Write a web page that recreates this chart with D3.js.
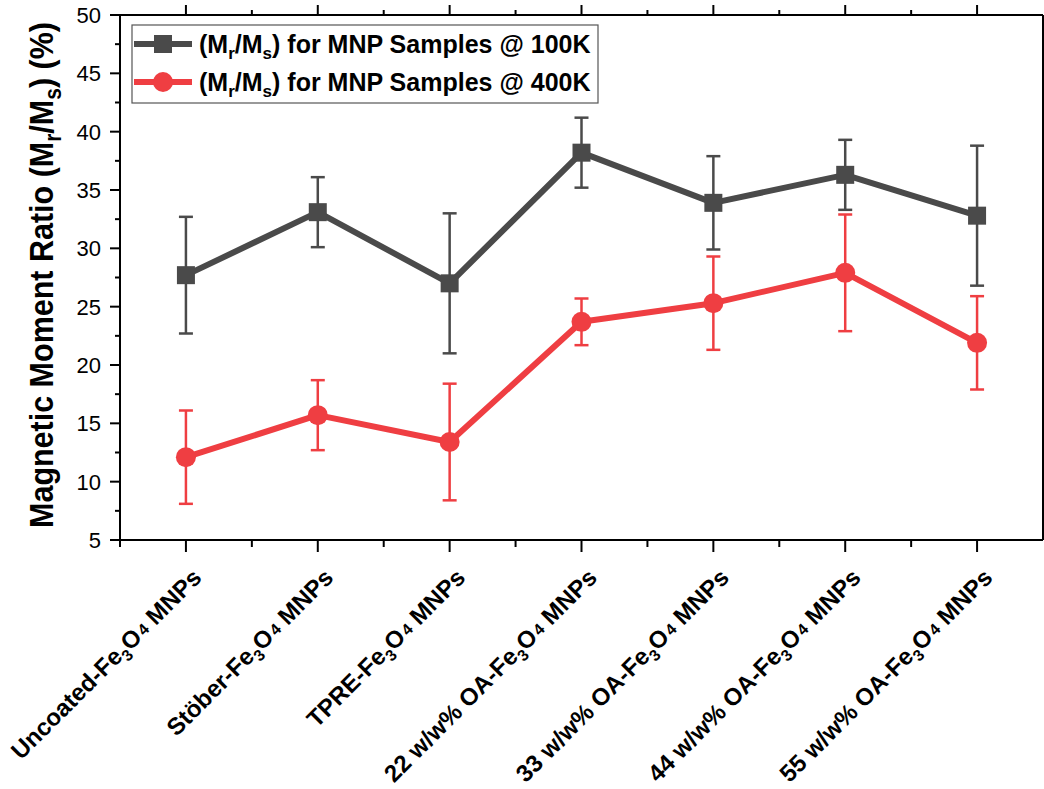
<!DOCTYPE html>
<html><head><meta charset="utf-8">
<script src="https://cdn.jsdelivr.net/npm/d3@7"></script>
<style>
html,body{margin:0;padding:0;background:#fff;}
svg{display:block;font-family:"Liberation Sans",Arial,sans-serif;}
</style></head>
<body><svg id="c" width="1044" height="789"></svg>
<script>
const categories = ["Uncoated","Stöber","TPRE","22 w/w% OA","33 w/w% OA","44 w/w% OA","55 w/w% OA"];
const ratio100K = [27.7, 33.1, 27.0, 38.2, 33.9, 36.3, 32.8];
const err100K   = [5, 3, 6, 3, 4, 3, 6];
const ratio400K = [12.1, 15.7, 13.4, 23.7, 25.3, 27.9, 21.9];
const err400K   = [4, 3, 5, 2, 4, 5, 4];
const yTicks = [5,10,15,20,25,30,35,40,45,50];
const seriesNames = ["100K","400K"];

const svg = d3.select("#c");
const L=120, R=1043, T=15, B=540;
const x = d3.scaleLinear().domain([0.5, 7.5]).range([L, R]);
const y = d3.scaleLinear().domain([5, 50]).range([B, T]);
const GRAY="#4a4a4a", RED="#ef3e42";

// frame
const ax = svg.append("g").attr("stroke","#000").attr("stroke-width",2).attr("fill","none");
ax.append("line").attr("x1",L).attr("x2",L).attr("y1",T).attr("y2",B+1);
ax.append("line").attr("x1",L-10).attr("x2",R).attr("y1",B).attr("y2",B);
ax.append("line").attr("x1",L-10).attr("x2",R).attr("y1",T).attr("y2",T);
ax.append("line").attr("x1",R).attr("x2",R).attr("y1",T).attr("y2",B);

// y ticks major + minor
yTicks.forEach(v=>{
  ax.append("line").attr("x1",L-10).attr("x2",L).attr("y1",y(v)).attr("y2",y(v));
  svg.append("text").attr("x",101).attr("y",y(v)).attr("dy","0.36em")
    .attr("text-anchor","end").attr("font-size",22).attr("fill","#000").text(v);
});
d3.range(7.5,50,5).forEach(v=>{
  ax.append("line").attr("x1",L-5).attr("x2",L).attr("y1",y(v)).attr("y2",y(v));
});
// x ticks
categories.forEach((c,i)=>{
  const xv=x(i+1);
  ax.append("line").attr("x1",xv).attr("x2",xv).attr("y1",B).attr("y2",B+12);
  ax.append("line").attr("x1",xv).attr("x2",xv).attr("y1",T).attr("y2",T-10);
});
d3.range(0.5,8,1).forEach(v=>{
  const xv=x(v);
  if (v>0.5 && v<7.5){
    ax.append("line").attr("x1",xv).attr("x2",xv).attr("y1",B).attr("y2",B+7);
    ax.append("line").attr("x1",xv).attr("x2",xv).attr("y1",T).attr("y2",T-5);
  }
});
ax.append("line").attr("x1",L).attr("x2",L).attr("y1",B).attr("y2",B+7);

// x labels
categories.forEach((c,i)=>{
  const t = svg.append("text")
    .attr("transform",`translate(${x(i+1)+17},${B+39}) rotate(-45)`)
    .attr("text-anchor","end").attr("font-size",24).attr("font-weight","bold").attr("fill","#000");
  t.append("tspan").text(c + "-Fe");
  t.append("tspan").attr("font-size",16).attr("dy",6).text("3");
  t.append("tspan").attr("dy",-6).text("O");
  t.append("tspan").attr("font-size",16).attr("dx",2).attr("dy",-1).text("4");
  t.append("tspan").attr("dy",1).text(" MNPs");
});

// y label
const yl = svg.append("text")
  .attr("transform",`translate(53,275) rotate(-90) scale(1,1.1)`)
  .attr("text-anchor","middle").attr("font-size",30.5).attr("font-weight","bold").attr("fill","#000");
yl.append("tspan").text("Magnetic Moment Ratio (M");
yl.append("tspan").attr("font-size",21).attr("dy",7).text("r");
yl.append("tspan").attr("dy",-7).text("/M");
yl.append("tspan").attr("font-size",21).attr("dy",7).text("s");
yl.append("tspan").attr("dy",-7).text(") (%)");

function drawSeries(vals, errs, color, shape){
  const g = svg.append("g");
  const data = vals.map((v,i)=>({i:i+1, v, e:errs[i]}));
  const eb = g.append("g").attr("stroke",color).attr("stroke-width",2.5);
  data.forEach(d=>{
    eb.append("line").attr("x1",x(d.i)).attr("x2",x(d.i)).attr("y1",y(d.v+d.e)).attr("y2",y(d.v-d.e));
    eb.append("line").attr("x1",x(d.i)-7).attr("x2",x(d.i)+7).attr("y1",y(d.v+d.e)).attr("y2",y(d.v+d.e));
    eb.append("line").attr("x1",x(d.i)-7).attr("x2",x(d.i)+7).attr("y1",y(d.v-d.e)).attr("y2",y(d.v-d.e));
  });
  g.append("path").datum(data)
    .attr("d", d3.line().x(d=>x(d.i)).y(d=>y(d.v)))
    .attr("fill","none").attr("stroke",color).attr("stroke-width",6).attr("stroke-linejoin","round");
  if (shape==="square"){
    g.selectAll("rect").data(data).join("rect")
      .attr("x",d=>x(d.i)-9).attr("y",d=>y(d.v)-9).attr("width",18).attr("height",18).attr("fill",color);
  } else {
    g.selectAll("circle").data(data).join("circle")
      .attr("cx",d=>x(d.i)).attr("cy",d=>y(d.v)).attr("r",10).attr("fill",color);
  }
}
drawSeries(ratio100K, err100K, GRAY, "square");
drawSeries(ratio400K, err400K, RED, "circle");

// legend
const lg = svg.append("g");
lg.append("rect").attr("x",132).attr("y",25).attr("width",466).attr("height",78)
  .attr("fill","#fff").attr("stroke","#555").attr("stroke-width",1.2);
[[GRAY,"square",seriesNames[0],44],[RED,"circle",seriesNames[1],82]].forEach(([col,sh,name,yy])=>{
  lg.append("line").attr("x1",134).attr("x2",192).attr("y1",yy).attr("y2",yy).attr("stroke",col).attr("stroke-width",6);
  if (sh==="square") lg.append("rect").attr("x",154).attr("y",yy-9).attr("width",18).attr("height",18).attr("fill",col);
  else lg.append("circle").attr("cx",163).attr("cy",yy).attr("r",10).attr("fill",col);
  const t = lg.append("text").attr("x",199).attr("y",yy+9).attr("font-size",25).attr("font-weight","bold").attr("fill","#000");
  t.append("tspan").text("(M");
  t.append("tspan").attr("font-size",17).attr("dy",6).text("r");
  t.append("tspan").attr("dy",-6).text("/M");
  t.append("tspan").attr("font-size",17).attr("dy",6).text("s");
  t.append("tspan").attr("dy",-6).text(`) for MNP Samples @ ${name}`);
});
</script></body></html>
